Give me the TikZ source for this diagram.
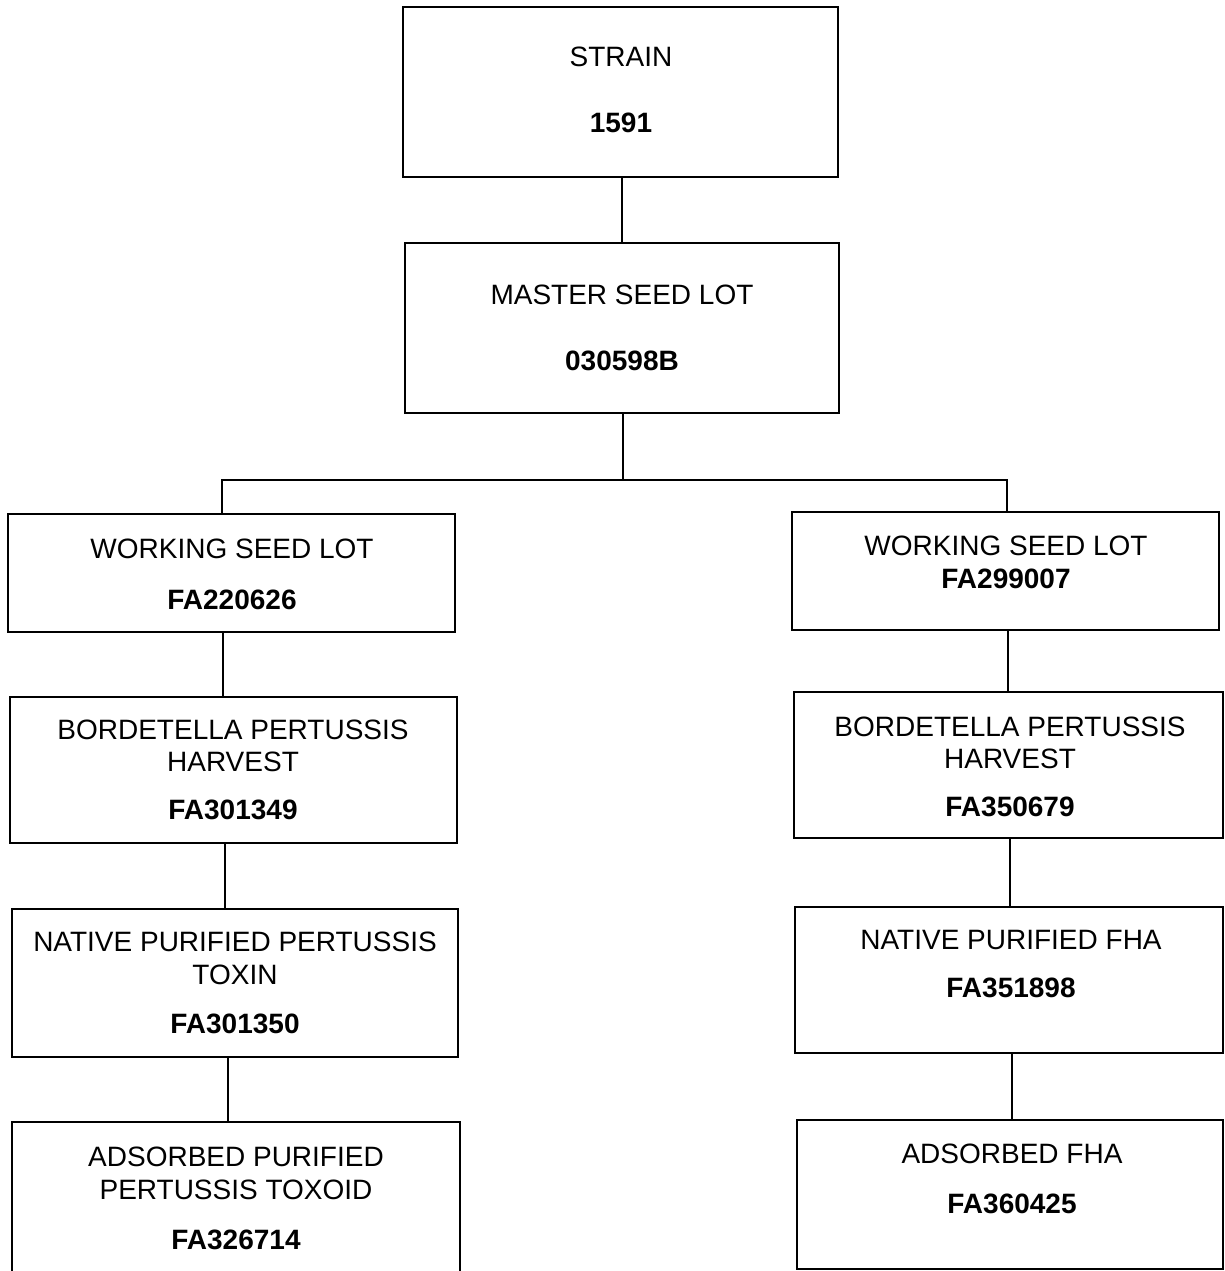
\documentclass[tikz,border=0pt]{standalone}
\usepackage{fontspec}
\setmainfont{Liberation Sans}
\begin{document}
\begin{tikzpicture}[x=1pt,y=-1pt,
  box/.style={draw,line width=1.6pt,inner sep=0pt},
  txt/.style={font=\fontsize{28}{32.5}\selectfont,align=center,inner sep=0pt},
  num/.style={font=\fontsize{28}{32.5}\selectfont\bfseries,inner sep=0pt},
  link/.style={line width=1.4pt}]
\useasboundingbox (0,0) rectangle (1225,1271);
\clip (0,0) rectangle (1225,1271);
\fill[white] (0,0) rectangle (1225,1271);
% boxes
\node[box,minimum width=435,minimum height=170] (strain) at (620.5,92) {};
\node[box,minimum width=434,minimum height=170] (master) at (622,328) {};
\node[box,minimum width=447,minimum height=118] (wsl1) at (231.5,573) {};
\node[box,minimum width=427,minimum height=118] (wsl2) at (1005.5,571) {};
\node[box,minimum width=447,minimum height=146] (bph1) at (233.5,770) {};
\node[box,minimum width=429,minimum height=146] (bph2) at (1008.5,765) {};
\node[box,minimum width=446,minimum height=148] (npt) at (235,983) {};
\node[box,minimum width=428,minimum height=146] (npf) at (1009,980) {};
\node[box,minimum width=448,minimum height=156] (apt) at (236,1200) {};
\node[box,minimum width=426,minimum height=149] (afha) at (1010,1194.5) {};
% texts
\node[txt] (t1) at (621,57) {STRAIN};
\node[num] (n1) at (621,123) {1591};
\node[txt] (t2) at (622,295) {MASTER SEED LOT};
\node[num] (n2) at (622,361) {030598B};
\node[txt] (t3) at (232,549) {WORKING SEED LOT};
\node[num] (n3) at (232,600) {FA220626};
\node[txt] (t4) at (1006,546) {WORKING SEED LOT};
\node[num] (n4) at (1006,579) {FA299007};
\node[txt] (t5) at (233,746) {BORDETELLA PERTUSSIS\\HARVEST};
\node[num] (n5) at (233,810) {FA301349};
\node[txt] (t6) at (1010,743) {BORDETELLA PERTUSSIS\\HARVEST};
\node[num] (n6) at (1010,807) {FA350679};
\node[txt] (t7) at (235,958.5) {NATIVE PURIFIED PERTUSSIS\\TOXIN};
\node[num] (n7) at (235,1024) {FA301350};
\node[txt] (t8) at (1011,940) {NATIVE PURIFIED FHA};
\node[num] (n8) at (1011,988) {FA351898};
\node[txt] (t9) at (236,1173.5) {ADSORBED PURIFIED\\PERTUSSIS TOXOID};
\node[num] (n9) at (236,1240) {FA326714};
\node[txt] (t10) at (1012,1154) {ADSORBED FHA};
\node[num] (n10) at (1012,1204) {FA360425};
% connectors
\coordinate (split) at (623,480);
\draw[link] ([xshift=1.5pt]strain.south) -- ([xshift=1.5pt]strain.south |- master.north);
\draw[link] ([xshift=1pt]master.south) -- (split);
\draw[link] ([xshift=-9.5pt]wsl1.north) |- (split) -| ([xshift=1.5pt]wsl2.north);
\draw[link] ([xshift=-8.5pt]wsl1.south) -- ([xshift=-8.5pt]wsl1.south |- bph1.north);
\draw[link] ([xshift=-8.5pt]bph1.south) -- ([xshift=-8.5pt]bph1.south |- npt.north);
\draw[link] ([xshift=-7pt]npt.south) -- ([xshift=-7pt]npt.south |- apt.north);
\draw[link] ([xshift=2.5pt]wsl2.south) -- ([xshift=2.5pt]wsl2.south |- bph2.north);
\draw[link] ([xshift=1.5pt]bph2.south) -- ([xshift=1.5pt]bph2.south |- npf.north);
\draw[link] ([xshift=3pt]npf.south) -- ([xshift=3pt]npf.south |- afha.north);
\end{tikzpicture}
\end{document}
